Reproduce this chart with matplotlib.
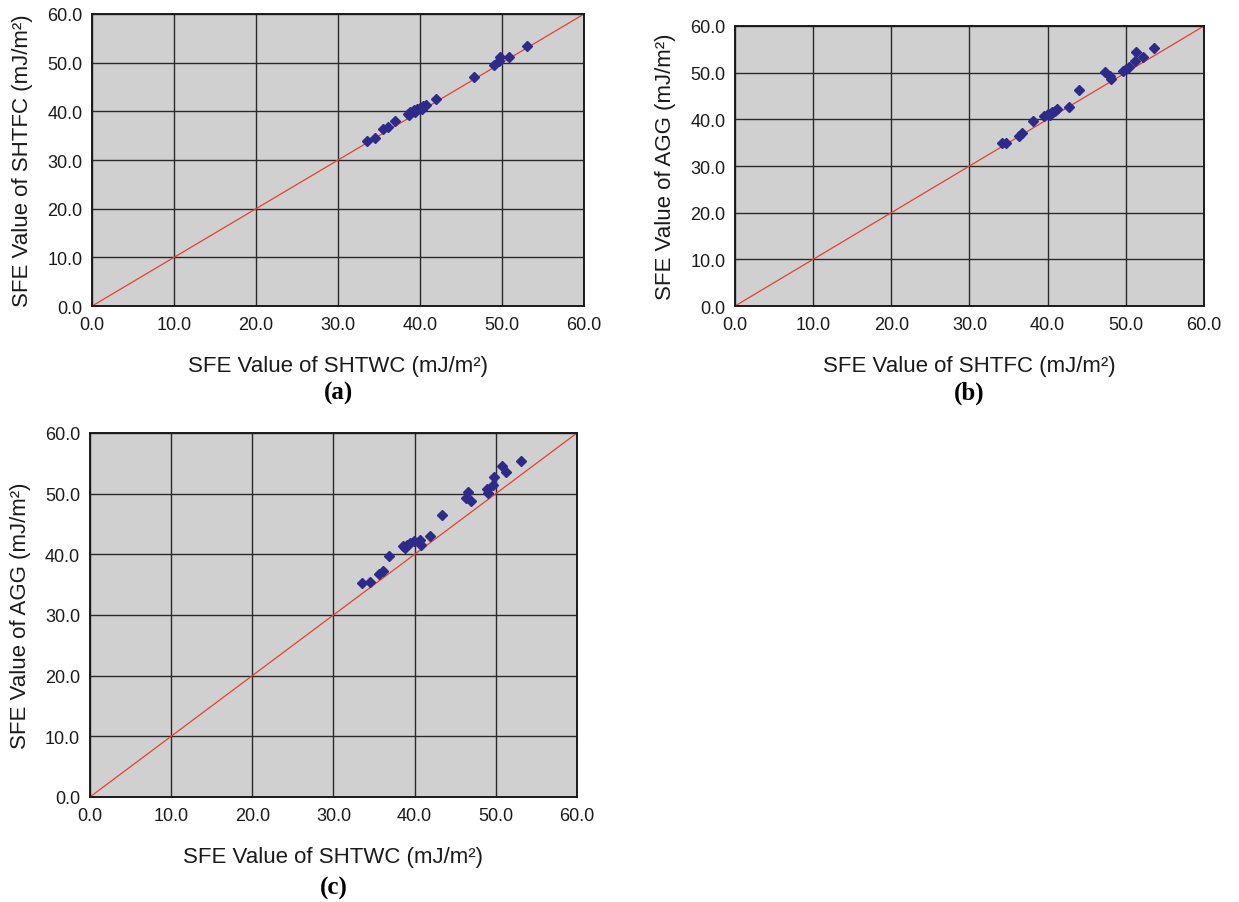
"""SFE comparison scatter plots: SHTWC vs SHTFC vs AGG."""

import matplotlib.pyplot as plt

plt.rcParams["font.family"] = ["Liberation Sans", "DejaVu Sans"]

# (a) SHTWC vs SHTFC
a_x = [33.5, 34.5, 35.5, 36.1, 37.0, 38.5, 38.7, 38.8, 39.2, 39.4, 39.6, 40.0,
       40.2, 40.4, 40.7, 41.9, 46.6, 49.0, 49.6, 49.8, 50.9, 53.1]
a_y = [34.0, 34.6, 36.3, 36.7, 38.0, 39.5, 39.3, 39.9, 40.2, 39.9, 40.5, 40.7,
       40.4, 41.0, 41.2, 42.6, 47.1, 49.5, 50.4, 51.1, 51.2, 53.5]

# (b) SHTFC vs AGG
b_x = [34.1, 34.7, 36.3, 36.7, 38.1, 39.6, 40.0, 40.3, 40.6, 41.0, 41.2, 42.7,
       44.0, 47.3, 48.0, 48.1, 49.7, 50.0, 50.4, 51.2, 51.3, 52.2, 53.6]
b_y = [34.9, 35.0, 36.5, 37.1, 39.6, 40.8, 41.2, 40.9, 41.5, 41.7, 42.3, 42.7,
       46.3, 50.1, 49.2, 48.6, 50.4, 50.8, 51.3, 52.5, 54.4, 53.4, 55.2]

# (c) SHTWC vs AGG
c_x = [33.5, 34.5, 35.6, 36.1, 36.9, 38.6, 38.8, 39.0, 39.4, 39.9, 40.6, 40.8,
       41.9, 43.4, 46.3, 46.6, 46.9, 48.9, 49.0, 49.6, 49.8, 50.8, 51.3, 53.1]
c_y = [35.2, 35.4, 36.8, 37.3, 39.8, 41.3, 41.0, 41.5, 41.8, 42.2, 42.3, 41.5,
       43.0, 46.5, 49.3, 50.2, 48.8, 50.8, 50.1, 51.4, 52.8, 54.6, 53.5, 55.4]

ticks = [0, 10, 20, 30, 40, 50, 60]
tick_labels = [f"{t:.1f}" for t in ticks]

panels = [
    # x, y, xlabel, ylabel, tag, axes rect, tag y (figure fraction)
    (a_x, a_y, "SFE Value of SHTWC (mJ/m²)", "SFE Value of SHTFC (mJ/m²)", "(a)",
     [0.0743, 0.660, 0.3971, 0.3234], 0.564),
    (b_x, b_y, "SFE Value of SHTFC (mJ/m²)", "SFE Value of AGG (mJ/m²)", "(b)",
     [0.5932, 0.660, 0.3785, 0.3101], 0.564),
    (c_x, c_y, "SFE Value of SHTWC (mJ/m²)", "SFE Value of AGG (mJ/m²)", "(c)",
     [0.0726, 0.1163, 0.3931, 0.4031], 0.016),
]

fig = plt.figure(figsize=(12.39, 9.03), dpi=100)

for x, y, xlabel, ylabel, tag, rect, tag_y in panels:
    ax = fig.add_axes(rect)
    ax.set_facecolor("#d0d0d0")
    ax.set_xlim(0, 60)
    ax.set_ylim(0, 60)
    ax.set_xticks(ticks, tick_labels)
    ax.set_yticks(ticks, tick_labels)
    ax.tick_params(length=0, labelsize=13, colors="#1a1a1a")
    ax.tick_params(axis="x", pad=7)
    ax.tick_params(axis="y", pad=7)
    ax.grid(True, color="#2a2a2a", linewidth=1.0)
    ax.set_axisbelow(True)
    for sp in ax.spines.values():
        sp.set_linewidth(1.4)
        sp.set_color("#1a1a1a")

    # 1:1 reference line
    ax.plot([0, 60], [0, 60], color="#e8402f", linewidth=0.9, zorder=2)
    ax.plot(x, y, linestyle="none", marker="D", markersize=4.6,
            color="#2e2a8a", zorder=3, clip_on=False)

    ax.set_xlabel(xlabel, fontsize=16, labelpad=16, color="#1a1a1a")
    ax.set_ylabel(ylabel, fontsize=16, labelpad=10, color="#1a1a1a")
    fig.text(rect[0] + rect[2] / 2, tag_y, tag, ha="center", va="center",
             fontsize=18, fontweight="bold", family="Liberation Serif")

fig.savefig("out.png", dpi=100)
